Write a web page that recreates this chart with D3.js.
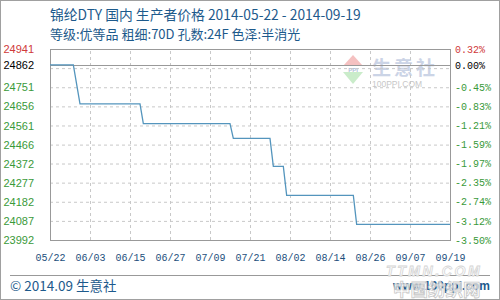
<!DOCTYPE html>
<html>
<head>
<meta charset="utf-8">
<script src="https://cdn.jsdelivr.net/npm/d3@7"></script>
<style>
  body { margin: 0; background: #fff; }
  svg { display: block; }
</style>
</head>
<body>
<svg id="chart"></svg>
<script>
// price points where the line changes (day of change, value)
const dates = ["2014-05-22", "2014-05-29", "2014-05-31", "2014-06-18", "2014-06-19", "2014-07-15",
  "2014-07-16", "2014-07-27", "2014-07-28", "2014-07-31", "2014-08-01", "2014-08-21", "2014-08-22", "2014-09-19"]
const prices = [24862, 24862, 24668, 24668, 24570, 24570, 24497, 24497, 24358, 24358, 24214, 24214, 24070, 24070]

const xTickLabels = ["05/22", "06/03", "06/15", "06/27", "07/09", "07/21", "08/02", "08/14", "08/26", "09/07", "09/19"]
const gridValues = [23992, 24087, 24182, 24277, 24372, 24466, 24561, 24656, 24751, 24846, 24941]
const leftValues = [24941, 24862, 24751, 24656, 24561, 24466, 24372, 24277, 24182, 24087, 23992]
const rightLabels = ["0.32%", "0.00%", "-0.45%", "-0.83%", "-1.21%", "-1.59%", "-1.97%", "-2.35%", "-2.74%", "-3.12%", "-3.50%"]
const baseValue = 24862

const w = 500
const h = 300
const plotLeft = 50, plotRight = 450, plotTop = 49, plotBottom = 240
const blue = "#1d5a8c"

const parse = d3.utcParse("%Y-%m-%d")
const data = dates.map((d, i) => ({ date: parse(d), value: prices[i] }))
const xTicks = xTickLabels.map(t => parse("2014-" + t.replace("/", "-")))

const svg = d3.select("#chart").attr("width", w).attr("height", h)

svg.append("rect").attr("x", 0.5).attr("y", 0.5).attr("width", w - 1).attr("height", h - 1)
  .attr("fill", "#fff").attr("stroke", "#a0a0a0")

const x = d3.scaleUtc().domain([parse("2014-05-22"), parse("2014-09-19")]).range([plotLeft, plotRight])
const y = d3.scaleLinear().domain([23992, 24941]).range([plotBottom, plotTop])

// title
svg.append("text").attr("x", 50).attr("y", 20)
  .attr("font-family", "'Noto Sans CJK SC', sans-serif").attr("font-size", 13.8).attr("fill", blue)
  .text("锦纶DTY 国内 生产者价格 2014-05-22 - 2014-09-19")
svg.append("text").attr("x", 50).attr("y", 38.5)
  .attr("font-family", "'Noto Sans CJK SC', sans-serif").attr("font-size", 13).attr("fill", blue)
  .text("等级:优等品 粗细:70D 孔数:24F 色泽:半消光")

// watermark logo
const logo = svg.append("g").attr("opacity", 0.7)
logo.append("path").attr("d", "M343,66 L353,55 L363,66 Z").attr("fill", "#f2a8a8")
logo.append("path").attr("d", "M343,72 L353,84 L363,72 Z").attr("fill", "#b4e4b4")
logo.append("text").attr("x", 353).attr("y", 71.5).attr("text-anchor", "middle")
  .attr("font-family", "'Liberation Sans', sans-serif").attr("font-size", 6).attr("font-weight", "bold")
  .attr("fill", "#8fa3c8").text("PPI")
logo.append("text").attr("x", 372).attr("y", 75)
  .attr("font-family", "'Noto Sans CJK SC', sans-serif").attr("font-size", 19).attr("font-weight", "bold")
  .attr("letter-spacing", 3).attr("fill", "#b6c2dc").text("生意社")
logo.append("text").attr("x", 372).attr("y", 87)
  .attr("font-family", "'Liberation Sans', sans-serif").attr("font-size", 8.5)
  .attr("fill", "#b0b0b0").text("100PPI.COM")

// gridlines
svg.append("g")
  .attr("transform", `translate(${plotLeft},0)`)
  .call(d3.axisLeft(y).tickValues(gridValues).tickSize(-(plotRight - plotLeft)).tickFormat(""))
  .call(g => g.select(".domain").remove())
  .call(g => g.selectAll("line").attr("stroke", "#c8c8c8").attr("stroke-dasharray", "3,3"))

svg.append("g")
  .attr("transform", `translate(0,${plotBottom})`)
  .call(d3.axisBottom(x).tickValues(xTicks).tickSize(-(plotBottom - plotTop)).tickFormat(""))
  .call(g => g.select(".domain").remove())
  .call(g => g.selectAll("line").attr("stroke", "#c8c8c8").attr("stroke-dasharray", "3,3"))

// base line
svg.append("line").attr("x1", plotLeft).attr("x2", plotRight)
  .attr("y1", Math.round(y(baseValue)) + 0.5).attr("y2", Math.round(y(baseValue)) + 0.5)
  .attr("stroke", "#999")

// frame
svg.append("rect").attr("x", plotLeft + 0.5).attr("y", plotTop + 0.5)
  .attr("width", plotRight - plotLeft).attr("height", plotBottom - plotTop)
  .attr("fill", "none").attr("stroke", "#999")

// price line
svg.append("path").datum(data)
  .attr("fill", "none").attr("stroke", "#5495bd").attr("stroke-width", 1.3)
  .attr("d", d3.line().x(d => x(d.date)).y(d => y(d.value)))

const labelColor = (i) => i === 0 ? "#d03a3a" : (i === 1 ? "#000" : "#3a9a3a")

// left axis labels
svg.append("g")
  .attr("transform", `translate(${plotLeft},0)`)
  .call(d3.axisLeft(y).tickValues(leftValues).tickSize(0).tickPadding(16).tickFormat(d => d))
  .call(g => g.select(".domain").remove())
  .call(g => g.selectAll("text")
    .attr("font-family", "'Liberation Sans', sans-serif").attr("font-size", 11)
    .attr("fill", (d, i) => labelColor(i)))

// right axis labels
svg.append("g")
  .attr("transform", `translate(${plotRight},0)`)
  .call(d3.axisRight(y).tickValues(leftValues).tickSize(0).tickPadding(5).tickFormat((d, i) => rightLabels[i]))
  .call(g => g.select(".domain").remove())
  .call(g => g.selectAll("text")
    .attr("font-family", "'Liberation Mono', monospace").attr("font-size", 10)
    .attr("fill", (d, i) => labelColor(i)))

// x labels
svg.append("g")
  .attr("transform", `translate(0,${plotBottom})`)
  .call(d3.axisBottom(x).tickValues(xTicks).tickSize(0).tickPadding(14).tickFormat((d, i) => xTickLabels[i]))
  .call(g => g.select(".domain").remove())
  .call(g => g.selectAll("text")
    .attr("font-family", "'Liberation Mono', monospace").attr("font-size", 10).attr("fill", "#1d4f7c"))

// footer
svg.append("line").attr("x1", 10).attr("x2", 490).attr("y1", 275.5).attr("y2", 275.5).attr("stroke", "#999")
svg.append("text").attr("x", 10).attr("y", 290.5)
  .attr("font-family", "'Noto Sans CJK SC', sans-serif").attr("font-size", 13.5).attr("fill", blue)
  .text("© 2014.09 生意社")
svg.append("text").attr("x", 490).attr("y", 290).attr("text-anchor", "end")
  .attr("font-family", "'Liberation Sans', sans-serif").attr("font-size", 12).attr("font-weight", "bold")
  .attr("fill", blue).text("www.100ppi.com")

// overlay watermark
svg.append("text").attr("x", 386).attr("y", 276)
  .attr("font-family", "'Liberation Sans', sans-serif").attr("font-size", 14).attr("font-weight", "bold")
  .attr("font-style", "italic").attr("letter-spacing", 2.6)
  .attr("fill", "#fff").attr("stroke", "#d4d4d4").attr("stroke-width", 0.8)
  .text("TTMN.COM")
svg.append("text").attr("x", 393).attr("y", 296)
  .attr("font-family", "'Noto Sans CJK SC', sans-serif").attr("font-size", 17.5).attr("font-weight", "bold")
  .attr("fill", "#fff").attr("fill-opacity", 0.7).attr("stroke", "#c8c8c8").attr("stroke-width", 0.8)
  .text("中国纺织网")
</script>
</body>
</html>
